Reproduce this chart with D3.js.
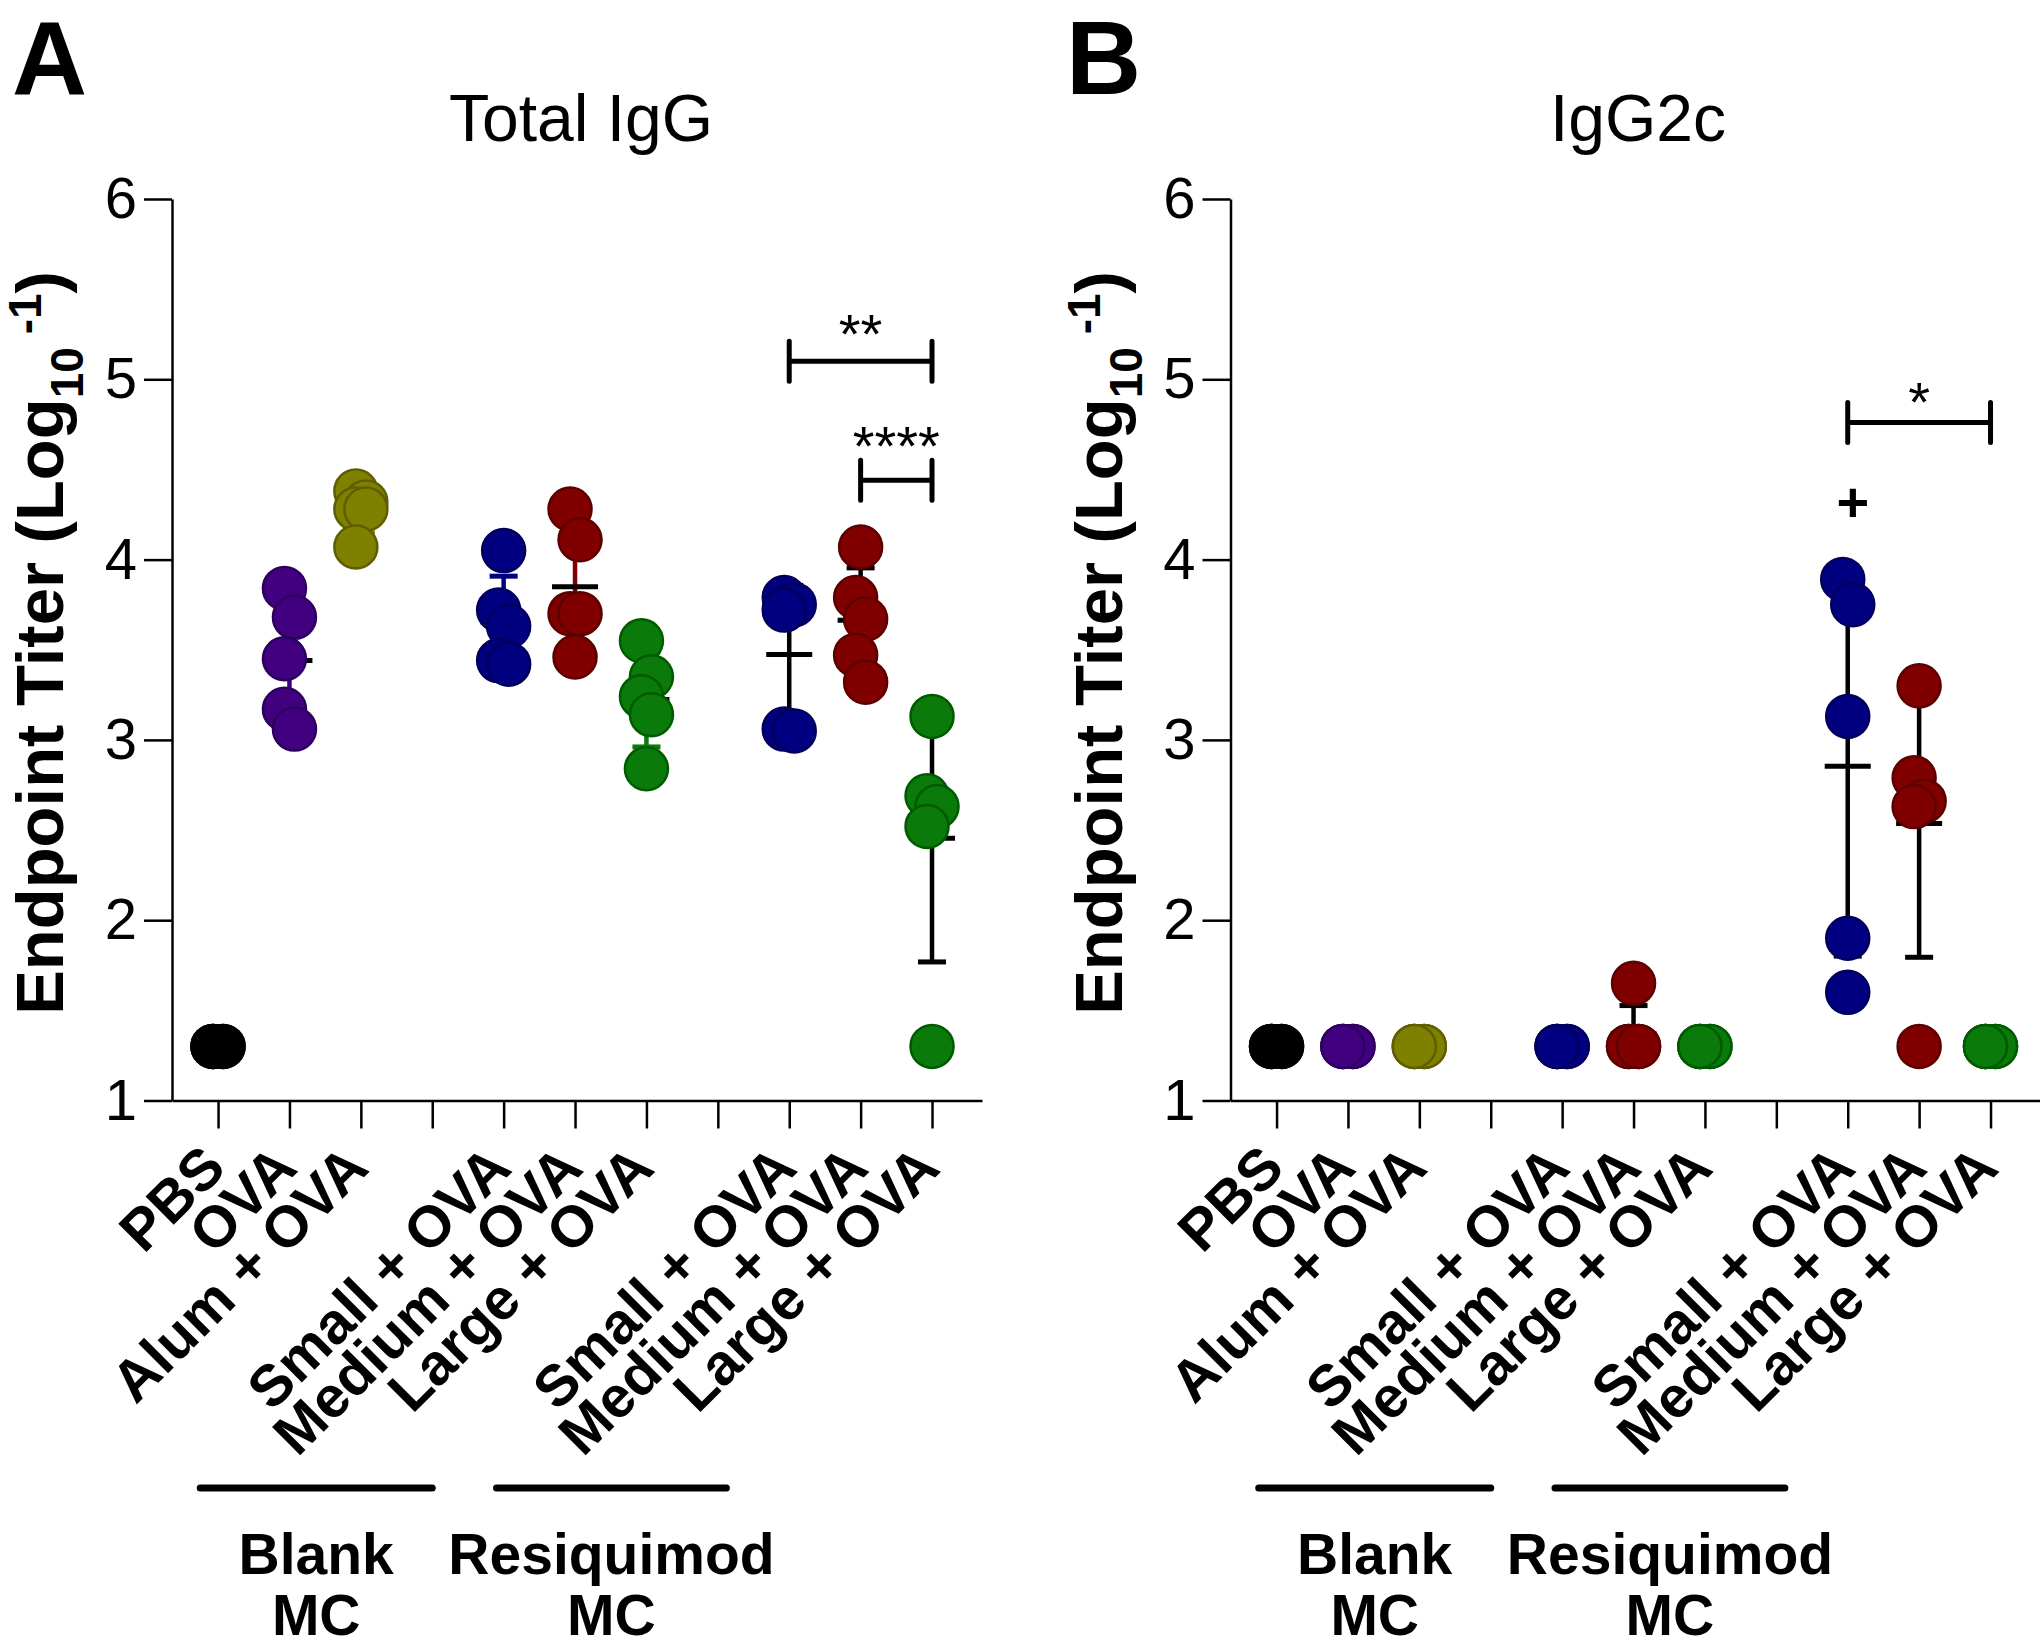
<!DOCTYPE html>
<html>
<head>
<meta charset="utf-8">
<script src="https://cdn.jsdelivr.net/npm/d3@7"></script>
<style>
  html, body { margin: 0; padding: 0; background: #fff; }
  svg { display: block; }
  text { font-family: "Liberation Sans", Arial, Helvetica, sans-serif; }
</style>
</head>
<body>
<svg id="chart" width="2040" height="1647"></svg>
<script>
// ---------------- DATA ----------------
const categories = ["PBS", "OVA", "Alum + OVA", "", "Small + OVA", "Medium + OVA", "Large + OVA",
                    "", "Small + OVA", "Medium + OVA", "Large + OVA"];
const groupSlots = [0, 1, 2, 4, 5, 6, 8, 9, 10];
const yTicks = [1, 2, 3, 4, 5, 6];

// Total IgG (log10 endpoint titer), one array per group (slot order above)
const totalIgG = [
  [1.3, 1.3, 1.3, 1.3, 1.3],
  [3.84, 3.68, 3.45, 3.17, 3.06],
  [4.38, 4.32, 4.28, 4.28, 4.07],
  [4.05, 3.72, 3.63, 3.44, 3.42],
  [4.28, 4.11, 3.70, 3.70, 3.46],
  [3.55, 3.35, 3.24, 3.14, 2.84],
  [3.79, 3.75, 3.72, 3.06, 3.05],
  [4.07, 3.79, 3.67, 3.47, 3.32],
  [3.13, 2.69, 2.63, 2.52, 1.30]
];
// IgG2c
const igG2c = [
  [1.3, 1.3, 1.3, 1.3, 1.3],
  [1.3, 1.3, 1.3, 1.3, 1.3],
  [1.3, 1.3, 1.3, 1.3, 1.3],
  [1.3, 1.3, 1.3, 1.3, 1.3],
  [1.65, 1.3, 1.3, 1.3, 1.3],
  [1.3, 1.3, 1.3, 1.3, 1.3],
  [3.89, 3.75, 3.13, 1.90, 1.60],
  [3.30, 2.79, 2.66, 2.63, 1.30],
  [1.3, 1.3, 1.3, 1.3, 1.3]
];
const sigA = [
  { from: 8, to: 10, y: 5.10, label: "**" },
  { from: 9, to: 10, y: 4.44, label: "****" }
];
const sigB = [
  { from: 8, to: 10, y: 4.76, label: "*" }
];
const plusB = [{ slot: 8, y: 4.32, label: "+" }];
const groupLabels = [
  { from: -0.25, to: 3.0, lines: ["Blank", "MC"] },
  { from: 3.9, to: 7.12, lines: ["Resiquimod", "MC"] }
];

// ---------------- STYLE ----------------
const fills   = ["#000000", "#400080", "#808000", "#000080", "#800000", "#0a7a0a", "#000080", "#800000", "#0a7a0a"];
const strokes = ["#000000", "#2e005e", "#5e5e00", "#00005c", "#5c0000", "#005a00", "#00005c", "#5c0000", "#005a00"];
const errColorsA = ["#000", "#400080", "#808000", "#000080", "#800000", "#0a7a0a", "#000", "#000", "#000"];
const errColorsB = ["#000", "#000", "#000", "#000", "#000", "#000", "#000", "#000", "#000"];
const starLift = { "*": 2, "**": 8, "****": 15 };

const svg = d3.select("#chart");
const R = 21.5;
const yTop = 199, yBot = 1100.5;

function drawPanel(opt) {
  const g = svg.append("g");
  const x = d3.scaleLinear().domain([-0.645, 10.7]).range([opt.axisX, opt.axisX + 810]);
  const y = d3.scaleLinear().domain([1, 6]).range([yBot, yTop]);

  // panel letter
  g.append("text").attr("x", opt.letterX).attr("y", 94)
    .attr("font-size", 104).attr("font-weight", "bold").text(opt.letter);
  // title
  g.append("text").attr("x", opt.titleX).attr("y", 141).attr("text-anchor", "middle")
    .attr("font-size", 66).text(opt.title);

  // y axis
  const ya = g.append("g").attr("transform", `translate(${opt.axisX},0)`)
    .call(d3.axisLeft(y).tickValues(yTicks).tickSize(28).tickSizeOuter(0).tickPadding(7).tickFormat(d3.format("d")));
  ya.select(".domain").attr("stroke-width", 2.5);
  ya.selectAll(".tick line").attr("stroke-width", 2.5);
  ya.selectAll(".tick text").attr("font-size", 58).attr("font-family", "Liberation Sans, Arial, sans-serif").attr("fill", "#000");

  // x axis
  const xa = g.append("g").attr("transform", `translate(0,${yBot})`)
    .call(d3.axisBottom(x).tickValues(d3.range(categories.length)).tickSize(28).tickSizeOuter(0).tickFormat(""));
  xa.select(".domain").attr("stroke-width", 2.5);
  xa.selectAll(".tick line").attr("stroke-width", 2.5);

  // x labels
  g.selectAll("text.xl").data(categories.map((c, i) => ({ c, i })).filter(d => d.c !== ""))
    .enter().append("text").attr("class", "xl")
    .attr("transform", d => `translate(${x(d.i) + 10},${yBot + 70}) rotate(-45)`)
    .attr("text-anchor", "end").attr("font-size", 58).attr("font-weight", "bold")
    .text(d => d.c);

  // y-axis title
  const yt = g.append("text")
    .attr("transform", `translate(${opt.axisX - 109},643) rotate(-90)`)
    .attr("text-anchor", "middle").attr("font-size", 67).attr("font-weight", "bold");
  yt.append("tspan").text("Endpoint Titer (Log");
  yt.append("tspan").attr("font-size", 46).attr("dy", 20).text("10");
  yt.append("tspan").attr("font-size", 46).attr("dy", -42).text(" -1");
  yt.append("tspan").attr("dy", 22).text(")");

  // error bars (mean ± SD), drawn behind points
  opt.data.forEach((vals, gi) => {
    const cx = x(groupSlots[gi]);
    const m = d3.mean(vals), sd = d3.deviation(vals) || 0;
    const col = opt.errColors[gi];
    const eg = g.append("g");
    eg.append("line").attr("x1", cx).attr("x2", cx).attr("y1", y(m - sd)).attr("y2", y(m + sd))
      .attr("stroke", col).attr("stroke-width", 4.5);
    [m - sd, m + sd].forEach(v => {
      eg.append("line").attr("x1", cx - 14).attr("x2", cx + 14).attr("y1", y(v)).attr("y2", y(v))
        .attr("stroke", col).attr("stroke-width", 5);
    });
    eg.append("line").attr("x1", cx - 23).attr("x2", cx + 23).attr("y1", y(m)).attr("y2", y(m))
      .attr("stroke", "#000").attr("stroke-width", 5);
  });

  // points with simple dodge for overlapping values
  opt.data.forEach((vals, gi) => {
    const cx = x(groupSlots[gi]);
    const pts = vals.map((v, k) => ({ v, k, py: y(v) }));
    const sorted = pts.slice().sort((a, b) => a.py - b.py);
    let cluster = [];
    const clusters = [];
    sorted.forEach((p, i) => {
      if (i > 0 && p.py - sorted[i - 1].py < 2 * R) cluster.push(p);
      else { if (cluster.length) clusters.push(cluster); cluster = [p]; }
    });
    if (cluster.length) clusters.push(cluster);
    clusters.forEach(c => {
      c.forEach((p, j) => { p.dx = c.length > 1 ? (j % 2 === 0 ? -5 : 5) : 0; });
    });
    g.selectAll(null).data(pts).enter().append("circle")
      .attr("cx", d => cx + d.dx).attr("cy", d => d.py).attr("r", R)
      .attr("fill", fills[gi]).attr("stroke", strokes[gi]).attr("stroke-width", 2.5);
  });

  // significance brackets
  opt.sig.forEach(s => {
    const x1 = x(s.from), x2 = x(s.to), yy = y(s.y);
    g.append("path").attr("d", `M${x1},${yy - 20}V${yy + 20}M${x1},${yy}H${x2}M${x2},${yy - 20}V${yy + 20}`)
      .attr("fill", "none").attr("stroke", "#000").attr("stroke-width", 5).attr("stroke-linecap", "round");
    g.append("text").attr("x", (x1 + x2) / 2).attr("y", yy - (starLift[s.label] || 8)).attr("text-anchor", "middle")
      .attr("font-size", 56).text(s.label);
  });
  (opt.plus || []).forEach(p => {
    g.append("text").attr("x", x(p.slot) + 5).attr("y", y(p.y) + 19).attr("text-anchor", "middle")
      .attr("font-size", 56).attr("font-weight", "bold").text(p.label);
  });

  // group lines and labels
  groupLabels.forEach(gl => {
    g.append("line").attr("x1", x(gl.from)).attr("x2", x(gl.to)).attr("y1", 1488).attr("y2", 1488)
      .attr("stroke", "#000").attr("stroke-width", 7).attr("stroke-linecap", "round");
    const cx = (x(gl.from) + x(gl.to)) / 2;
    gl.lines.forEach((t, li) => {
      g.append("text").attr("x", cx).attr("y", 1574 + li * 61).attr("text-anchor", "middle")
        .attr("font-size", 57).attr("font-weight", "bold").text(t);
    });
  });
}

drawPanel({ axisX: 172, letter: "A", letterX: 12, title: "Total IgG", titleX: 581,
            data: totalIgG, errColors: errColorsA, sig: sigA });
drawPanel({ axisX: 1230.5, letter: "B", letterX: 1066, title: "IgG2c", titleX: 1638,
            data: igG2c, errColors: errColorsB, sig: sigB, plus: plusB });
</script>
</body>
</html>
